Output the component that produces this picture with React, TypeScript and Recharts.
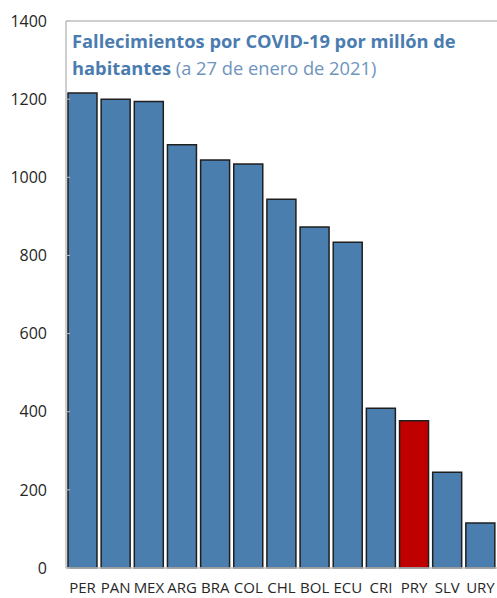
import { BarChart, Bar, XAxis, YAxis, Cell, ReferenceLine } from "recharts"

const countries = ["PER", "PAN", "MEX", "ARG", "BRA", "COL", "CHL", "BOL", "ECU", "CRI", "PRY", "SLV", "URY"]
const deaths = [1216, 1200, 1194, 1083, 1044, 1034, 944, 873, 834, 409, 377, 245, 115]
const yTicks = [0, 200, 400, 600, 800, 1000, 1200, 1400]
const highlight = "PRY"

const data = countries.map((c, i) => ({ country: c, value: deaths[i] }))

const BLUE = "#4a7eae"
const RED = "#c00000"
const AXIS = "#bfbfbf"
const FONT = "'Open Sans', 'Noto Sans', sans-serif"

export default function App() {
  return (
    <div style={{ position: "absolute", left: 0, top: 0, width: 497, height: 598, background: "#fff" }}>
      <BarChart
        width={497}
        height={598}
        data={data}
        margin={{ top: 21, right: 0, bottom: 0, left: 0 }}
        barCategoryGap="6%"
      >
        <YAxis
          domain={[0, 1400]}
          ticks={yTicks}
          interval={0}
          width={66}
          tickSize={-4}
          tickMargin={23}
          axisLine={{ stroke: AXIS, strokeWidth: 1.5 }}
          tickLine={{ stroke: AXIS }}
          tick={{ fontSize: 16, fill: "#262626", fontFamily: FONT }}
        />
        <XAxis
          dataKey="country"
          height={30}
          interval={0}
          tickLine={false}
          tickMargin={8}
          axisLine={{ stroke: AXIS, strokeWidth: 1.5 }}
          tick={{ fontSize: 15, fill: "#262626", fontFamily: FONT }}
        />
        <ReferenceLine y={1400} stroke={AXIS} strokeWidth={1.5} />
        <Bar dataKey="value" stroke="#1f1f1f" strokeWidth={1.5} isAnimationActive={false}>
          {data.map(d => (
            <Cell key={d.country} fill={d.country === highlight ? RED : BLUE} />
          ))}
        </Bar>
      </BarChart>

      {/* title box in the top-left of the plot */}
      <div
        style={{
          position: "absolute",
          left: 72,
          top: 27,
          fontFamily: FONT,
          fontSize: 18.3,
          lineHeight: "27px",
          color: "#4a7cb0",
          whiteSpace: "nowrap",
        }}
      >
        <div style={{ fontWeight: 700 }}>Fallecimientos por COVID-19 por millón de</div>
        <div>
          <span style={{ fontWeight: 700 }}>habitantes</span>
          <span style={{ color: "#6f94bd" }}> (a 27 de enero de 2021)</span>
        </div>
      </div>
    </div>
  )
}
